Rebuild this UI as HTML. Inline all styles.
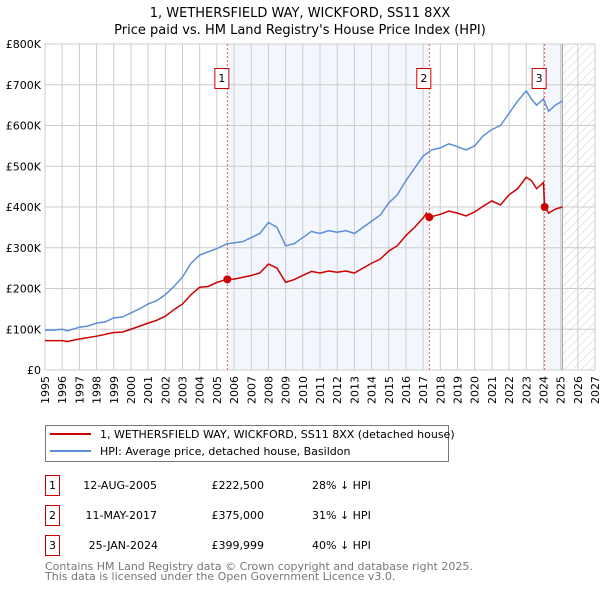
<!DOCTYPE html>
<html><head><meta charset="utf-8"><style>
body{margin:0;background:#fff;}
svg{display:block;font-family:"DejaVu Sans","Liberation Sans",sans-serif;}
</style></head><body>
<svg id="chart" width="600" height="590">
<text x="300" y="17" text-anchor="middle" font-size="13">1, WETHERSFIELD WAY, WICKFORD, SS11 8XX</text>
<text x="300" y="34" text-anchor="middle" font-size="13">Price paid vs. HM Land Registry's House Price Index (HPI)</text>
<defs><pattern id="hatch" width="6" height="6" patternUnits="userSpaceOnUse" patternTransform="rotate(45)"><line x1="0" y1="0" x2="0" y2="6" stroke="#ccc" stroke-width="1"/></pattern></defs>
<g id="plot"></g>
<g>
<rect x="45.5" y="425.5" width="403" height="36" fill="#fff" stroke="#777"/>
<line x1="50" y1="434" x2="91" y2="434" stroke="#cc0000" stroke-width="2"/>
<text x="100" y="438" font-size="11">1, WETHERSFIELD WAY, WICKFORD, SS11 8XX (detached house)</text>
<line x1="50" y1="451" x2="91" y2="451" stroke="#5b8fd6" stroke-width="2"/>
<text x="100" y="455" font-size="11">HPI: Average price, detached house, Basildon</text>
</g>
<g font-size="11">
<rect x="45.5" y="475.5" width="14" height="20" fill="none" stroke="#cc0000"/>
<text x="52.5" y="489" text-anchor="middle">1</text>
<text x="157" y="489" text-anchor="end">12-AUG-2005</text>
<text x="264" y="489" text-anchor="end">£222,500</text>
<text x="312" y="489">28% ↓ HPI</text>
<rect x="45.5" y="505.5" width="14" height="20" fill="none" stroke="#cc0000"/>
<text x="52.5" y="519" text-anchor="middle">2</text>
<text x="157" y="519" text-anchor="end">11-MAY-2017</text>
<text x="264" y="519" text-anchor="end">£375,000</text>
<text x="312" y="519">31% ↓ HPI</text>
<rect x="45.5" y="535.5" width="14" height="20" fill="none" stroke="#cc0000"/>
<text x="52.5" y="549" text-anchor="middle">3</text>
<text x="158" y="549" text-anchor="end">25-JAN-2024</text>
<text x="264" y="549" text-anchor="end">£399,999</text>
<text x="312" y="549">40% ↓ HPI</text>
</g>
<text x="45" y="570" font-size="11" fill="#777">Contains HM Land Registry data © Crown copyright and database right 2025.</text>
<text x="45" y="580" font-size="11" fill="#777">This data is licensed under the Open Government Licence v3.0.</text>
</svg>
<script>
const hpiYears=[1995,1995.5,1996,1996.3,1997,1997.5,1998,1998.5,1999,1999.5,2000,2000.5,2001,2001.5,2002,2002.5,2003,2003.5,2004,2004.5,2005,2005.6,2006,2006.5,2007,2007.5,2008,2008.5,2009,2009.5,2010,2010.5,2011,2011.5,2012,2012.5,2013,2013.5,2014,2014.5,2015,2015.5,2016,2016.5,2017,2017.5,2018,2018.5,2019,2019.5,2020,2020.5,2021,2021.5,2022,2022.5,2023,2023.3,2023.6,2024,2024.3,2024.7,2025.1];
const hpiValues=[98,98,100,96,105,108,115,118,128,130,140,150,162,170,185,205,228,262,282,290,298,310,312,315,325,335,362,350,305,310,325,340,335,342,338,342,335,350,365,380,410,430,465,495,525,540,545,555,548,540,550,575,590,600,630,660,685,665,650,665,635,650,660];
const priceYears=[1995,1996,1996.3,1997,1998,1999,1999.5,2000,2001,2001.5,2002,2002.5,2003,2003.5,2004,2004.5,2005,2005.6,2006,2007,2007.5,2008,2008.5,2009,2009.5,2010,2010.5,2011,2011.5,2012,2012.5,2013,2013.5,2014,2014.5,2015,2015.5,2016,2016.5,2017,2017.2,2017.36,2018,2018.5,2019,2019.5,2020,2020.5,2021,2021.5,2022,2022.5,2023,2023.3,2023.6,2024,2024.07,2024.3,2024.7,2025.1];
const priceValues=[72,72,70,76,83,92,93,100,115,122,132,148,162,185,203,205,215,222.5,223,232,238,260,250,215,222,232,242,238,243,240,243,238,250,262,272,292,305,330,350,373,385,375,382,390,385,378,388,402,415,405,430,445,473,465,445,460,400,385,395,400];
const saleLabels=["1","2","3"];
const saleYears=[2005.61,2017.36,2024.07];
const salePrices=[222.5,375,399.999];
const yTicks=[0,100,200,300,400,500,600,700,800];
const yTickLabels=["£0","£100K","£200K","£300K","£400K","£500K","£600K","£700K","£800K"];
const xTicks=[1995,1996,1997,1998,1999,2000,2001,2002,2003,2004,2005,2006,2007,2008,2009,2010,2011,2012,2013,2014,2015,2016,2017,2018,2019,2020,2021,2022,2023,2024,2025,2026,2027];
const dataEnd=2025.1;

const X0=45,X1=595,Y0=370,Y1=44;
const xs=y=>X0+(y-1995)/(2027-1995)*(X1-X0);
const ys=v=>Y0-v/800*(Y0-Y1);
const NS="http://www.w3.org/2000/svg";
const g=document.getElementById('plot');
function mk(t,a,p){const e=document.createElementNS(NS,t);for(const k in a)e.setAttribute(k,a[k]);(p||g).appendChild(e);return e;}

let r=mk('rect',{x:xs(saleYears[0]),y:Y1,width:xs(saleYears[1])-xs(saleYears[0]),height:Y0-Y1,fill:'#eef3fc',opacity:0.7});


r=mk('rect',{x:xs(saleYears[2]),y:Y1,width:xs(dataEnd)-xs(saleYears[2]),height:Y0-Y1,fill:'#eef3fc',opacity:0.7});


r=mk('rect',{x:xs(dataEnd),y:Y1,width:X1-xs(dataEnd),height:Y0-Y1,fill:'url(#hatch)'});



yTicks.forEach((t,i)=>{
  const l=mk('line',{x1:X0,x2:X1,y1:ys(t),y2:ys(t),stroke:'#ccc','stroke-width':1});
  
  
  const tx=mk('text',{x:X0-4,y:ys(t)+4,'text-anchor':'end','font-size':11});
  tx.textContent=yTickLabels[i];
  
  
});
xTicks.forEach(t=>{
  const l=mk('line',{x1:xs(t),x2:xs(t),y1:Y1,y2:Y0,stroke:'#ccc','stroke-width':1});
  
  
  const tx=mk('text',{x:0,y:0,'text-anchor':'end','font-size':11,transform:`translate(${xs(t)+4},${Y0+6}) rotate(-90)`});
  tx.textContent=t;
  
  
});
let ln=mk('line',{x1:xs(dataEnd),x2:xs(dataEnd),y1:Y1,y2:Y0,stroke:'#999','stroke-width':1});



saleYears.forEach((sy,i)=>{
  const l=mk('line',{x1:xs(sy),x2:xs(sy),y1:Y1,y2:Y0,stroke:'#e06060','stroke-width':1,'stroke-dasharray':'2,2'});
  
  
  const b=mk('rect',{x:xs(sy)-12.5,y:68.5,width:14,height:20,fill:'#fff',stroke:'#cc0000'});
  
  
  const tx=mk('text',{x:xs(sy)-5.5,y:82,'text-anchor':'middle','font-size':11});
  tx.textContent=saleLabels[i];
  
  
});

let p=mk('polyline',{points:hpiYears.map((y,i)=>xs(y)+','+ys(hpiValues[i])).join(' '),fill:'none',stroke:'#5b8fd6','stroke-width':1.5});


p=mk('polyline',{points:priceYears.map((y,i)=>xs(y)+','+ys(priceValues[i])).join(' '),fill:'none',stroke:'#cc0000','stroke-width':1.5});


saleYears.forEach((sy,i)=>{
  const c=mk('circle',{cx:xs(sy),cy:ys(salePrices[i]),r:4,fill:'#cc0000'});
  
  
});
</script>
</body></html>
